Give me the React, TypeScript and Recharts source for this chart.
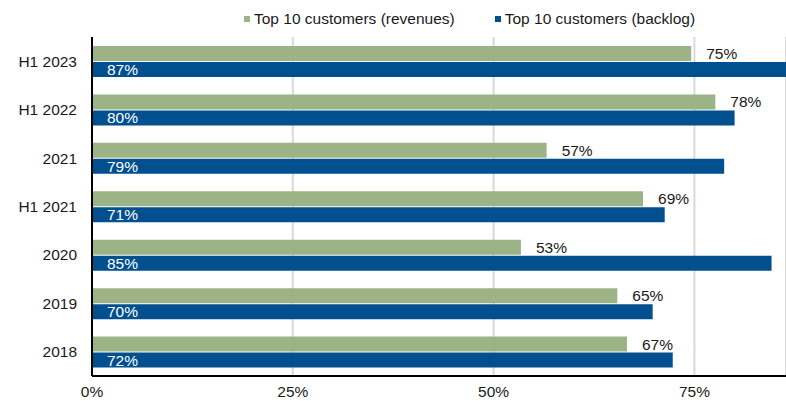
import { BarChart, Bar, XAxis, YAxis, CartesianGrid, LabelList } from "recharts";

const periods = ["H1 2023", "H1 2022", "2021", "H1 2021", "2020", "2019", "2018"];
const revenues = [74.6, 77.6, 56.6, 68.6, 53.4, 65.4, 66.6];
const backlog = [87, 80.0, 78.7, 71.3, 84.6, 69.8, 72.3];
const xTicks = [0, 25, 50, 75];

const seriesNames = ["Top 10 customers (revenues)", "Top 10 customers (backlog)"];
const seriesColors = ["#9bb385", "#004f8f"];

const data = periods.map((p, i) => ({
  name: p,
  revenues: revenues[i],
  backlog: backlog[i],
}));

const font = "'Liberation Sans', Arial, sans-serif";
const pct = (v: any) => `${Math.round(Number(v))}%`;

export default function App() {
  return (
    <div style={{ position: "absolute", left: 0, top: 0, width: 786, height: 401, fontFamily: font }}>
      <div
        style={{
          position: "absolute",
          left: 244,
          top: 10,
          display: "flex",
          alignItems: "center",
          fontSize: 15.5,
          color: "#1a1a1a",
          whiteSpace: "nowrap",
        }}
      >
        {seriesNames.map((n, i) => (
          <div key={n} style={{ display: "flex", alignItems: "center", marginRight: 40 }}>
            <span style={{ width: 6, height: 6, background: seriesColors[i], marginRight: 4 }} />
            <span>{n}</span>
          </div>
        ))}
      </div>
      <BarChart
        width={786}
        height={401}
        data={data}
        layout="vertical"
        margin={{ top: 37, right: 0, bottom: 0, left: 0 }}
        barSize={15}
        barGap={1}
      >
        <CartesianGrid horizontal={false} stroke="#d9d9d9" strokeWidth={2} />
        <XAxis
          type="number"
          domain={[0, 86.4]}
          allowDataOverflow
          ticks={xTicks}
          tickFormatter={(v) => `${v}%`}
          axisLine={{ stroke: "#000", strokeWidth: 2 }}
          tickLine={false}
          tickMargin={4}
          height={25}
          tick={{ fill: "#1a1a1a", fontSize: 15.5, fontFamily: font }}
        />
        <YAxis
          type="category"
          dataKey="name"
          width={92}
          axisLine={{ stroke: "#000", strokeWidth: 2 }}
          tickLine={false}
          tickMargin={9}
          tick={{ fill: "#1a1a1a", fontSize: 15.5, fontFamily: font }}
        />
        <Bar dataKey="revenues" fill={seriesColors[0]} isAnimationActive={false}>
          <LabelList
            dataKey="revenues"
            position="right"
            offset={15}
            formatter={pct}
            fill="#1a1a1a"
            fontSize={15.5}
            fontFamily={font}
          />
        </Bar>
        <Bar dataKey="backlog" fill={seriesColors[1]} isAnimationActive={false}>
          <LabelList
            dataKey="backlog"
            position="insideLeft"
            offset={15}
            formatter={pct}
            fill="#fff"
            fontSize={15.5}
            fontFamily={font}
          />
        </Bar>
      </BarChart>
    </div>
  );
}
